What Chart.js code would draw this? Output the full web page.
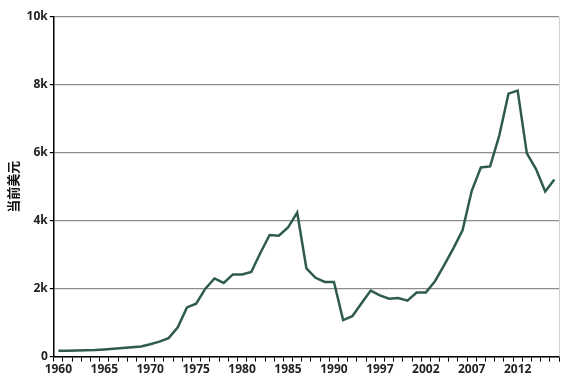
<!DOCTYPE html>
<html>
<head>
<meta charset="utf-8">
<script src="https://cdn.jsdelivr.net/npm/chart.js@4"></script>
<style>
    html, body { margin: 0; padding: 0; background: #fff; }
    #wrap { width: 578px; height: 378px; }
</style>
</head>
<body>
<div id="wrap"><canvas id="chart" width="578" height="378"></canvas></div>
<script>
// Years on the category axis (1991 and 1992 are absent in the source)
const years = [
    1960, 1961, 1962, 1963, 1964, 1965, 1966, 1967, 1968, 1969,
    1970, 1971, 1972, 1973, 1974, 1975, 1976, 1977, 1978, 1979,
    1980, 1981, 1982, 1983, 1984, 1985, 1986, 1987, 1988, 1989,
    1990, 1993, 1994, 1995, 1996, 1997, 1998, 1999, 2000, 2001,
    2002, 2003, 2004, 2005, 2006, 2007, 2008, 2009, 2010, 2011,
    2012, 2013, 2014, 2015, 2016
];

// GDP per capita, current US$
const values = [
    170, 175, 180, 186, 195, 210, 230, 250, 275, 300,
    364, 440, 545, 860, 1450, 1560, 2000, 2300, 2170, 2420,
    2420, 2490, 3060, 3580, 3560, 3800, 4240, 2600, 2320, 2200,
    2200, 1075, 1190, 1570, 1944, 1805, 1707, 1726, 1648, 1884,
    1884, 2219, 2692, 3186, 3718, 4882, 5571, 5601, 6509, 7742,
    7831, 5986, 5524, 4861, 5216
];

const yTicks = [0, 2000, 4000, 6000, 8000, 10000];

const tickFont = { family: 'Open Sans, Liberation Sans, sans-serif', size: 12, weight: 'bold' };

// light grey border on the right side of the plot area
const rightEdge = {
    id: 'rightEdge',
    afterDraw(chart) {
        const { ctx, chartArea } = chart;
        ctx.save();
        ctx.strokeStyle = '#d0d0d0';
        ctx.lineWidth = 1;
        ctx.beginPath();
        ctx.moveTo(chartArea.right + 0.5, chartArea.top);
        ctx.lineTo(chartArea.right + 0.5, chartArea.bottom);
        ctx.stroke();
        ctx.restore();
    }
};

const ctx = document.getElementById('chart').getContext('2d');
new Chart(ctx, {
    type: 'line',
    data: {
        labels: years.map(String),
        datasets: [{
            data: values,
            borderColor: '#2e5c48',
            borderWidth: 2.5,
            pointRadius: 0,
            tension: 0,
            fill: false
        }]
    },
    options: {
        responsive: false,
        animation: false,
        layout: { padding: { top: 17, right: 19, bottom: 0, left: 5 } },
        plugins: {
            legend: { display: false },
            tooltip: { enabled: false }
        },
        scales: {
            x: {
                offset: true,
                grid: {
                    offset: true,
                    drawOnChartArea: false,
                    drawTicks: true,
                    tickLength: 5,
                    tickColor: '#000'
                },
                border: { color: '#000', width: 1.5 },
                ticks: {
                    autoSkip: false,
                    maxRotation: 0,
                    padding: 1,
                    color: '#222',
                    font: tickFont,
                    callback: (v, i) => (i % 5 === 0 ? years[i] : '')
                }
            },
            y: {
                min: 0,
                max: 10000,
                afterBuildTicks: axis => { axis.ticks = yTicks.map(v => ({ value: v })); },
                grid: {
                    color: '#8c8c8c',
                    lineWidth: 1.2,
                    tickLength: 4,
                    tickColor: '#000'
                },
                border: { color: '#000', width: 1.5 },
                ticks: {
                    padding: 2,
                    color: '#222',
                    font: tickFont,
                    callback: v => (v === 0 ? '0' : (v / 1000) + 'k')
                },
                title: {
                    display: true,
                    text: '当前美元',
                    color: '#111',
                    padding: { top: 0, bottom: 4 },
                    font: { family: 'Noto Sans CJK SC', size: 13, weight: 'bold' }
                }
            }
        }
    },
    plugins: [rightEdge]
});
</script>
</body>
</html>
